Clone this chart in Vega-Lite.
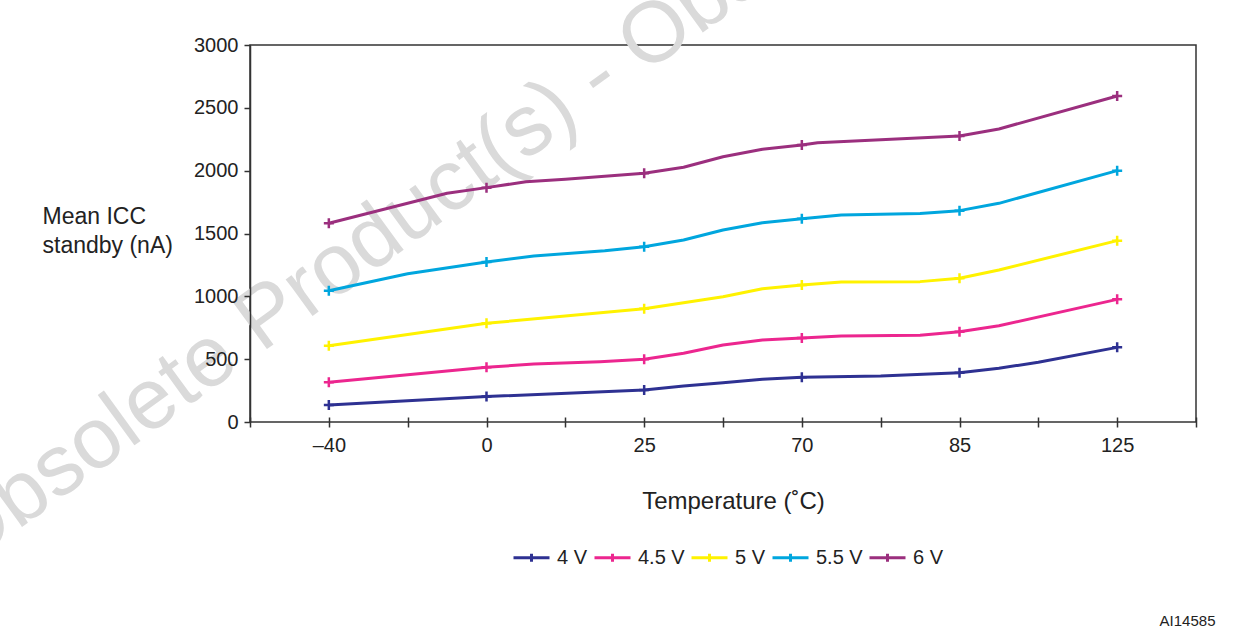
{
  "$schema": "https://vega.github.io/schema/vega-lite/v6.json",
  "width": 946,
  "height": 377,
  "autosize": {"type": "none"},
  "padding": {"left": 250, "top": 45, "right": 41, "bottom": 217},
  "background": "white",
  "config": {
    "font": "Liberation Sans",
    "view": {"stroke": "#333", "strokeWidth": 1.5},
    "axis": {"domainColor": "#333", "domainWidth": 1.5, "tickColor": "#333", "tickWidth": 1.5, "labelColor": "#222", "titleColor": "#222", "labelFont": "Liberation Sans", "titleFont": "Liberation Sans", "titleFontWeight": "normal", "grid": false}
  },
  "datasets": {
    "curve": [
      {"series": "4 V", "pos": 0, "value": 135},
      {"series": "4 V", "pos": 1, "value": 202},
      {"series": "4 V", "pos": 2, "value": 255},
      {"series": "4 V", "pos": 2.25, "value": 286},
      {"series": "4 V", "pos": 2.5, "value": 313},
      {"series": "4 V", "pos": 2.75, "value": 340},
      {"series": "4 V", "pos": 3, "value": 356},
      {"series": "4 V", "pos": 3.5, "value": 366},
      {"series": "4 V", "pos": 4, "value": 392},
      {"series": "4 V", "pos": 4.25, "value": 428},
      {"series": "4 V", "pos": 4.5, "value": 475},
      {"series": "4 V", "pos": 5, "value": 594},
      {"series": "4.5 V", "pos": 0, "value": 316},
      {"series": "4.5 V", "pos": 1, "value": 435},
      {"series": "4.5 V", "pos": 1.3, "value": 462},
      {"series": "4.5 V", "pos": 1.72, "value": 480},
      {"series": "4.5 V", "pos": 2, "value": 499},
      {"series": "4.5 V", "pos": 2.25, "value": 547},
      {"series": "4.5 V", "pos": 2.5, "value": 613},
      {"series": "4.5 V", "pos": 2.75, "value": 653},
      {"series": "4.5 V", "pos": 3, "value": 668},
      {"series": "4.5 V", "pos": 3.25, "value": 684},
      {"series": "4.5 V", "pos": 3.75, "value": 690},
      {"series": "4.5 V", "pos": 4, "value": 719},
      {"series": "4.5 V", "pos": 4.25, "value": 766},
      {"series": "4.5 V", "pos": 5, "value": 976},
      {"series": "5 V", "pos": 0, "value": 607},
      {"series": "5 V", "pos": 1, "value": 785},
      {"series": "5 V", "pos": 2, "value": 902},
      {"series": "5 V", "pos": 2.5, "value": 997},
      {"series": "5 V", "pos": 2.75, "value": 1061},
      {"series": "5 V", "pos": 3, "value": 1090},
      {"series": "5 V", "pos": 3.25, "value": 1114},
      {"series": "5 V", "pos": 3.75, "value": 1117},
      {"series": "5 V", "pos": 4, "value": 1144},
      {"series": "5 V", "pos": 4.25, "value": 1210},
      {"series": "5 V", "pos": 5, "value": 1443},
      {"series": "5.5 V", "pos": 0, "value": 1045},
      {"series": "5.5 V", "pos": 0.5, "value": 1180},
      {"series": "5.5 V", "pos": 1, "value": 1273},
      {"series": "5.5 V", "pos": 1.3, "value": 1321},
      {"series": "5.5 V", "pos": 1.75, "value": 1363},
      {"series": "5.5 V", "pos": 2, "value": 1395},
      {"series": "5.5 V", "pos": 2.25, "value": 1448},
      {"series": "5.5 V", "pos": 2.5, "value": 1528},
      {"series": "5.5 V", "pos": 2.75, "value": 1586},
      {"series": "5.5 V", "pos": 3, "value": 1618},
      {"series": "5.5 V", "pos": 3.25, "value": 1647},
      {"series": "5.5 V", "pos": 3.75, "value": 1660},
      {"series": "5.5 V", "pos": 4, "value": 1682},
      {"series": "5.5 V", "pos": 4.25, "value": 1740},
      {"series": "5.5 V", "pos": 5, "value": 2000},
      {"series": "6 V", "pos": 0, "value": 1581},
      {"series": "6 V", "pos": 0.75, "value": 1820},
      {"series": "6 V", "pos": 1, "value": 1865},
      {"series": "6 V", "pos": 1.25, "value": 1912},
      {"series": "6 V", "pos": 1.5, "value": 1932},
      {"series": "6 V", "pos": 2, "value": 1979},
      {"series": "6 V", "pos": 2.25, "value": 2027},
      {"series": "6 V", "pos": 2.5, "value": 2111},
      {"series": "6 V", "pos": 2.75, "value": 2170},
      {"series": "6 V", "pos": 3, "value": 2204},
      {"series": "6 V", "pos": 3.1, "value": 2223},
      {"series": "6 V", "pos": 4, "value": 2276},
      {"series": "6 V", "pos": 4.25, "value": 2332},
      {"series": "6 V", "pos": 5, "value": 2594}
    ],
    "points": [
      {"series": "4 V", "temp": "–40", "pos": 0, "value": 135},
      {"series": "4 V", "temp": "0", "pos": 1, "value": 202},
      {"series": "4 V", "temp": "25", "pos": 2, "value": 255},
      {"series": "4 V", "temp": "70", "pos": 3, "value": 356},
      {"series": "4 V", "temp": "85", "pos": 4, "value": 392},
      {"series": "4 V", "temp": "125", "pos": 5, "value": 594},
      {"series": "4.5 V", "temp": "–40", "pos": 0, "value": 316},
      {"series": "4.5 V", "temp": "0", "pos": 1, "value": 435},
      {"series": "4.5 V", "temp": "25", "pos": 2, "value": 499},
      {"series": "4.5 V", "temp": "70", "pos": 3, "value": 668},
      {"series": "4.5 V", "temp": "85", "pos": 4, "value": 719},
      {"series": "4.5 V", "temp": "125", "pos": 5, "value": 976},
      {"series": "5 V", "temp": "–40", "pos": 0, "value": 607},
      {"series": "5 V", "temp": "0", "pos": 1, "value": 785},
      {"series": "5 V", "temp": "25", "pos": 2, "value": 902},
      {"series": "5 V", "temp": "70", "pos": 3, "value": 1090},
      {"series": "5 V", "temp": "85", "pos": 4, "value": 1144},
      {"series": "5 V", "temp": "125", "pos": 5, "value": 1443},
      {"series": "5.5 V", "temp": "–40", "pos": 0, "value": 1045},
      {"series": "5.5 V", "temp": "0", "pos": 1, "value": 1273},
      {"series": "5.5 V", "temp": "25", "pos": 2, "value": 1395},
      {"series": "5.5 V", "temp": "70", "pos": 3, "value": 1618},
      {"series": "5.5 V", "temp": "85", "pos": 4, "value": 1682},
      {"series": "5.5 V", "temp": "125", "pos": 5, "value": 2000},
      {"series": "6 V", "temp": "–40", "pos": 0, "value": 1581},
      {"series": "6 V", "temp": "0", "pos": 1, "value": 1865},
      {"series": "6 V", "temp": "25", "pos": 2, "value": 1979},
      {"series": "6 V", "temp": "70", "pos": 3, "value": 2204},
      {"series": "6 V", "temp": "85", "pos": 4, "value": 2276},
      {"series": "6 V", "temp": "125", "pos": 5, "value": 2594}
    ]
  },
  "resolve": {"axis": {"x": "independent", "y": "independent"}},
  "layer": [
    {
      "data": {"name": "curve"},
      "mark": {"type": "line", "strokeWidth": 3, "interpolate": "linear", "strokeJoin": "round"},
      "encoding": {
        "x": {
          "field": "pos", "type": "quantitative",
          "scale": {"domain": [-0.5, 5.5], "nice": false, "zero": false},
          "axis": {
            "orient": "bottom", "offset": -5, "domain": false,
            "values": [-0.5, 0, 0.5, 1, 1.5, 2, 2.5, 3, 3.5, 4, 4.5, 5, 5.5],
            "labelExpr": "datum.value % 1 == 0 && datum.value >= 0 ? ['–40','0','25','70','85','125'][datum.value] : ''",
            "labelFontSize": 20, "labelPadding": 8, "tickSize": 10, "labelFlush": false, "labelOverlap": false,
            "title": "Temperature (˚C)", "titleFontSize": 24, "titleX": 483, "titleY": 91, "titleBaseline": "alphabetic", "titleAnchor": null, "titleAlign": "center"
          }
        },
        "y": {
          "field": "value", "type": "quantitative",
          "scale": {"domain": [0, 3000], "nice": false},
          "axis": {
            "orient": "left",
            "values": [0, 500, 1000, 1500, 2000, 2500, 3000], "format": "d",
            "labelFontSize": 20, "labelPadding": 6, "tickSize": 6,
            "title": ["Mean ICC", "standby (nA)"], "titleAngle": 0, "titleAlign": "left", "titleBaseline": "alphabetic",
            "titleX": -208, "titleY": 178, "titleFontSize": 23, "titleLineHeight": 29
          }
        },
        "stroke": {
          "field": "series", "type": "nominal",
          "scale": {"domain": ["4 V", "4.5 V", "5 V", "5.5 V", "6 V"], "range": ["#2e3192", "#ec268f", "#fff200", "#00a6de", "#9b2f7e"]},
          "legend": {
            "orient": "none", "legendX": 262, "legendY": 493, "direction": "horizontal", "title": null,
            "symbolType": "M-1,0H1M0,-0.22V0.22", "symbolSize": 1296, "symbolStrokeWidth": 3,
            "labelFontSize": 20, "labelOffset": 6, "columnPadding": 0, "labelColor": "#222"
          }
        },
        "detail": {"field": "series"}
      }
    },
    {
      "data": {"name": "points"},
      "mark": {"type": "point", "shape": "M-1,0H1M0,-1V1", "filled": false, "strokeWidth": 2.5, "size": 100, "opacity": 1},
      "encoding": {
        "x": {
          "field": "pos", "type": "quantitative",
          "axis": {
            "orient": "top", "domain": false, "ticks": false, "labels": false, "grid": false,
            "title": "Obsolete Product(s) - Obsolete Product(s)",
            "titleAngle": -36, "titleAlign": "left", "titleBaseline": "alphabetic", "titleAnchor": null,
            "titleX": -287, "titleY": 524, "titleFontSize": 86, "titleColor": "#dadada"
          }
        },
        "y": {
          "field": "value", "type": "quantitative",
          "axis": {
            "orient": "right", "domain": false, "ticks": false, "labels": false, "grid": false,
            "title": "AI14585", "titleAngle": 0, "titleAlign": "right", "titleBaseline": "middle", "titleAnchor": null,
            "titleX": 19, "titleY": 575, "titleFontSize": 15, "titleColor": "#222"
          }
        },
        "stroke": {"field": "series", "type": "nominal", "legend": null}
      }
    }
  ]
}
